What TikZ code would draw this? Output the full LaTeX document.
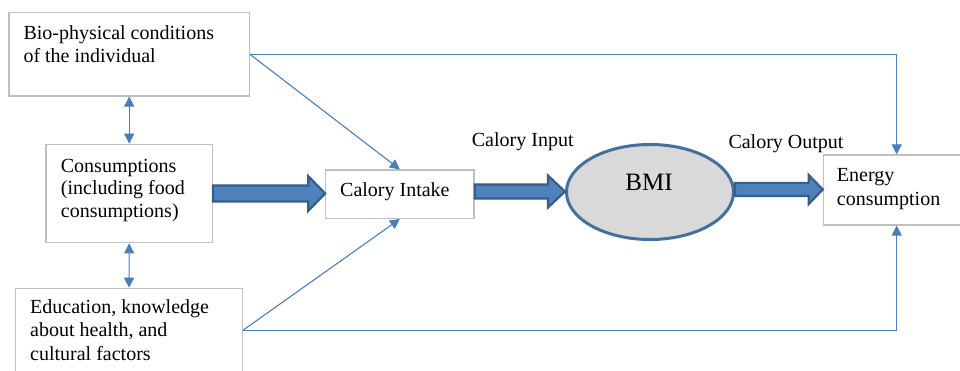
\documentclass[tikz,border=0pt]{standalone}
\usepackage{fontspec}
\setmainfont{Liberation Serif}
\usetikzlibrary{arrows.meta,calc,shapes.geometric}
\definecolor{boxgray}{HTML}{BFBFBF}
\definecolor{thinblue}{HTML}{4A7EBB}
\definecolor{blkfill}{HTML}{4F81BD}
\definecolor{blkline}{HTML}{385D8A}
\definecolor{ellline}{HTML}{41719C}
\definecolor{ellfill}{HTML}{D9D9D9}
\tikzset{
  box/.style={draw=boxgray, line width=1.2pt, rectangle, inner sep=0pt},
  txt/.style={anchor=base west, inner sep=0pt, font=\fontsize{20}{24}\selectfont},
  conn/.style={draw=thinblue, line width=1.1pt, -{Triangle[length=10pt,width=10pt]}},
  dconn/.style={draw=thinblue, line width=1.1pt, {Triangle[length=10pt,width=10pt]}-{Triangle[length=10pt,width=10pt]}},
  blk/.style={fill=blkfill, draw=blkline, line width=2.2pt, line join=miter},
}
\newcommand\blockarrow[6]{%
  \filldraw[blk] ($(#1 |- 0,#3)+(0,-#4)$) -- ($(#2 |- 0,#3)+(-#6,-#4)$) -- ($(#2 |- 0,#3)+(-#6,-#5)$) -- (#2 |- 0,#3) -- ($(#2 |- 0,#3)+(-#6,#5)$) -- ($(#2 |- 0,#3)+(-#6,#4)$) -- ($(#1 |- 0,#3)+(0,#4)$) -- cycle;}
\begin{document}
\begin{tikzpicture}[x=1pt,y=-1pt]
\clip (0,0) rectangle (960,370);
\fill[white] (0,0) rectangle (960,370);
% boxes
\node[box, minimum width=240.3pt, minimum height=83.3pt] (bio) at (129.2,54.3) {};
\node[box, minimum width=166.3pt, minimum height=98.4pt] (cons) at (129.2,193.5) {};
\node[box, minimum width=226.6pt, minimum height=84pt] (edu) at (129,330.3) {};
\node[box, minimum width=148.3pt, minimum height=48.3pt] (intake) at (399.9,194.2) {};
\node[box, minimum width=146.7pt, minimum height=70pt] (energy) at (896.7,190) {};
\node[draw=ellline, fill=ellfill, line width=3pt, ellipse, inner sep=0pt, minimum width=167pt, minimum height=95pt] (bmi) at (650,192) {};
% texts
\node[txt] (t1) at (23.3,39) {Bio-physical conditions};
\node[txt] (t2) at (23.3,62) {of the individual};
\node[txt] (t3) at (60.7,172) {Consumptions};
\node[txt] (t4) at (60.7,194.5) {(including food};
\node[txt] (t5) at (60.7,217) {consumptions)};
\node[txt] (t6) at (30,313.3) {Education, knowledge};
\node[txt] (t7) at (30,336.7) {about health, and};
\node[txt] (t8) at (30,360.5) {cultural factors};
\node[txt] (t9) at (340,196) {Calory Intake};
\node[txt] (t10) at (836.7,181.7) {Energy};
\node[txt] (t11) at (836.7,205) {consumption};
\node[txt] (t12) at (471.7,146.7) {Calory Input};
\node[txt] (t13) at (728.3,148.3) {Calory Output};
\node[anchor=base, inner sep=0pt, font=\fontsize{25}{30}\selectfont] (t14) at (649,190) {BMI};
% block arrows
\blockarrow{cons.east}{intake.west}{193.5}{8}{17.5}{17}
\blockarrow{intake.east}{bmi.west}{191.5}{7}{16}{17}
\blockarrow{bmi.east}{energy.west}{189.5}{6.5}{14.5}{14}
% thin connectors
\draw[conn] (bio.east) -- (intake.north);
\draw[conn] (bio.east) -| (energy.north);
\draw[conn] (edu.east) -- (intake.south);
\draw[conn] (edu.east) -| (energy.south);
\draw[dconn] (bio.south) -- (cons.north);
\draw[dconn] (cons.south) -- (edu.north);
\end{tikzpicture}
\end{document}
